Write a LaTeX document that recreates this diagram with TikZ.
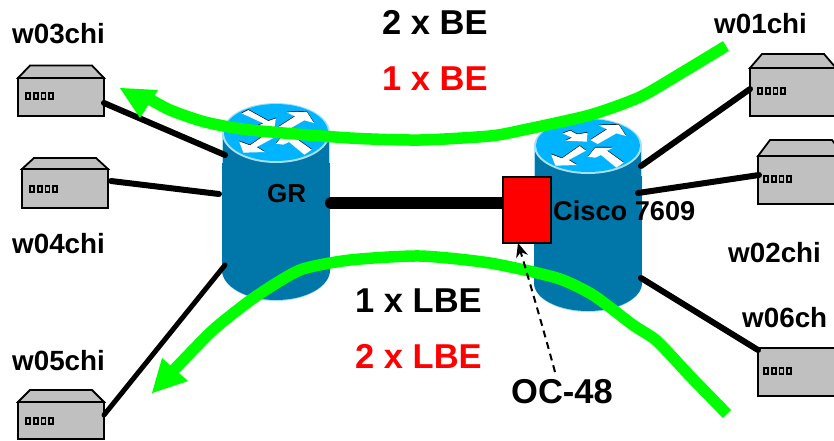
\documentclass[tikz,border=0pt]{standalone}
\usepackage{fontspec}
\setmainfont{Liberation Sans}
\usetikzlibrary{arrows.meta}
\definecolor{cylbody}{HTML}{0077A8}
\definecolor{cyltop}{HTML}{00B4FF}
\definecolor{cyledge}{HTML}{A8E0F5}
\definecolor{srvgray}{HTML}{C0C0C0}
\definecolor{flow}{HTML}{00FF00}
\tikzset{
  srvbox/.style={draw=black,fill=srvgray,line width=1.8pt,line join=miter},
  portbox/.style={draw=black,fill=srvgray,line width=1.8pt},
  wire/.style={draw=black,line width=6pt,line cap=round},
  flowline/.style={draw=flow,line width=11.5pt,line join=round},
  flowhead/.style={fill=flow,draw=none},
  lab/.style={font=\bfseries\fontsize{27.8}{30}\selectfont,anchor=base west,inner sep=0pt,text=black},
  biglab/.style={font=\bfseries\fontsize{34.5}{38}\selectfont,anchor=base west,inner sep=0pt,text=black},
  arrw/.style={fill=white,draw=none},
  arrs/.style={fill=black,draw=none}
}
% #1 left, #2 right, #3 roof y, #4 front y, #5 bottom y, #6 roof inset left, #7 port x, #8 port y
\newcommand{\srvfront}[8]{%
  \path[srvbox] (#1,#4) rectangle (#2,#5);
  \foreach \k in {0,1,2,3}
    \path[portbox] ({#7+\k*7.7-2},{#8-2.8}) rectangle ({#7+\k*7.7+2},{#8+2.8});
}
\newcommand{\srvroof}[6]{%
  \path[srvbox] (#1,#4) -- ({#1+#6},#3) -- ({#2-#6},#3) -- (#2,#4) -- cycle;
}
% #1 cx, #2 cy top, #3 cy bottom, #4 ry top, #5 ry bottom
\newcommand{\cyl}[5]{%
  \fill[cyledge] ({#1-54},#2) -- ({#1-54},#3) arc[start angle=180,end angle=360,x radius=54,y radius={-(#5+1)}] -- ({#1+54},#2) -- cycle;
  \fill[cylbody] ({#1-54},#3) arc[start angle=180,end angle=360,x radius=54,y radius={-#5}] -- cycle;
  \fill[cylbody] ({#1-54},{#2}) rectangle ({#1+54},{#3});
  \fill[cyledge] ({#1-54},#2) rectangle ({#1-53},{#2+30});
  \fill[cyledge] ({#1+53},#2) rectangle ({#1+54},{#2+30});
  \fill[cyledge] (#1,#2) ellipse[x radius=54,y radius=#4];
  \fill[cyltop] (#1,{#2-0.5}) ellipse[x radius=52,y radius={#4-1.5}];
}
\begin{document}
\begin{tikzpicture}[x=1pt,y=-1pt]
\clip (0,0) rectangle (834,440);
\fill[white] (0,0) rectangle (834,440);

% routers
\cyl{276}{133}{270}{30}{30}
\cyl{588}{146}{283}{28}{28}
% router arrows
\foreach \st/\dy in {arrs/-0.7,arrw/0}{
 \begin{scope}[shift={(276,{133+\dy})},x=0.3333pt,y=-0.3333pt]
  \fill[\st] (7,-18)--(57,-50)--(32,-62)--(92,-64)--(114,-30)--(85,-38)--(29,-6)--cycle;
  \fill[\st] (-111,25)--(-98,59)--(-33,57)--(-58,42)--(-6,14)--(-25,0)--(-78,37)--cycle;
  \fill[\st] (-103,-59)--(-83,-69)--(-23,-36)--(0,-44)--(-5,-14)--(-63,-19)--(-38,-29)--cycle;
  \fill[\st] (0,32)--(22,5)--(75,5)--(57,14)--(107,50)--(85,65)--(39,27)--(22,35)--cycle;
 \end{scope}
 \begin{scope}[shift={(588,{146+\dy})},x=0.3333pt,y=-0.3333pt]
  \fill[\st] (7,-18)--(57,-50)--(32,-62)--(92,-64)--(114,-30)--(85,-38)--(29,-6)--cycle;
  \fill[\st] (-111,25)--(-98,59)--(-33,57)--(-58,42)--(-6,14)--(-25,0)--(-78,37)--cycle;
  \fill[\st] (-76,-38)--(-53,-46)--(-33,-35)--(-1,-40)--(-3,-13)--(-68,-16)--(-48,-25)--cycle;
  \fill[\st] (0,32)--(22,5)--(75,5)--(57,14)--(107,50)--(85,65)--(39,27)--(22,35)--cycle;
 \end{scope}
}

% servers
\srvroof{18}{104}{65.5}{78}{116}{12}\srvfront{18}{104}{65.5}{78}{116}{12}{28}{96}
\srvroof{22}{108}{158}{169}{208}{12}\srvfront{22}{108}{158}{169}{208}{12}{32}{189}
\srvroof{18}{104}{390}{402}{439}{12}\srvfront{18}{104}{390}{402}{439}{12}{28}{421}
\srvroof{750}{836}{54}{68}{116}{12}\srvfront{750}{836}{54}{68}{116}{12}{760}{91}
\srvroof{758}{844}{140}{156}{204}{12}\srvfront{758}{844}{140}{156}{204}{12}{766}{179}
\srvfront{758}{844}{340}{348}{396}{12}{766}{371}

% connector ends
\coordinate (s3) at (104,103); \coordinate (r3) at (225,155);
\coordinate (s4) at (111,181); \coordinate (r4) at (219,194);
\coordinate (s5) at (104,415); \coordinate (r5) at (225,265);
\coordinate (s1) at (750,89);  \coordinate (q1) at (641,166);
\coordinate (s2) at (759,175); \coordinate (q2) at (638,193);
\coordinate (s6) at (758,350); \coordinate (q6) at (641,278);
\coordinate (gr) at (331,203); \coordinate (cs) at (503,203);
\draw[wire] (s3) -- (r3);
\draw[wire] (s4) -- (r4);
\draw[wire,line width=5pt] (s5) -- (r5);
\draw[wire] (s1) -- (q1);
\draw[wire] (s2) -- (q2);
\draw[wire] (s6) -- (q6);
\draw[wire,line width=12pt] (gr) -- (cs);

% red card
\node[draw=black,fill=red,line width=1.8pt,minimum width=48pt,minimum height=66pt,inner sep=0pt,anchor=north west] (card) at (502,176) {};

% green flows
\draw[flowline] plot[smooth,tension=0.4] coordinates {(726,46) (683,72) (640,97) (590,115) (523,130) (490,136) (420,140) (350,138) (250,130) (205,122) (170,110) (146,97)};
\fill[flowhead] (120,88) -- (158,90) -- (140,118) -- cycle;
\draw[flowline] plot[smooth,tension=0.4] coordinates {(727,414) (690,376) (657,341) (633,325) (593,295) (557,278) (490,263) (420,256) (350,260) (300,270) (255,297) (213,330) (172,372)};
\fill[flowhead] (152,393) -- (162,358) -- (188,381) -- cycle;

% OC-48 pointer
\node[biglab] (oc) at (511,403) {OC-48};
\coordinate (ocp) at (555,372);
\draw[black,line width=2pt,dash pattern=on 7pt off 5pt,-{Stealth[length=14pt,width=12pt]}] (ocp) .. controls (545,335) and (532,290) .. (518,243);

% labels
\node[lab] (w03) at (12,43) {w03chi};
\node[lab] (w04) at (12,253) {w04chi};
\node[lab] (w05) at (12,370) {w05chi};
\node[lab] (w01) at (714,33) {w01chi};
\node[lab] (w02) at (728,262) {w02chi};
\node[lab] (w06) at (742,327) {w06ch};
\node[lab,font=\bfseries\fontsize{26}{30}\selectfont] (grl) at (267,202) {GR};
\node[lab,font=\bfseries\fontsize{27.2}{30}\selectfont] (cis) at (553,220) {Cisco 7609};
\node[biglab] (b1) at (382,34) {2 x BE};
\node[biglab,text=red] (b2) at (382,90) {1 x BE};
\node[biglab] (l1) at (355,312) {1 x LBE};
\node[biglab,text=red] (l2) at (355,368) {2 x LBE};
\end{tikzpicture}
\end{document}
